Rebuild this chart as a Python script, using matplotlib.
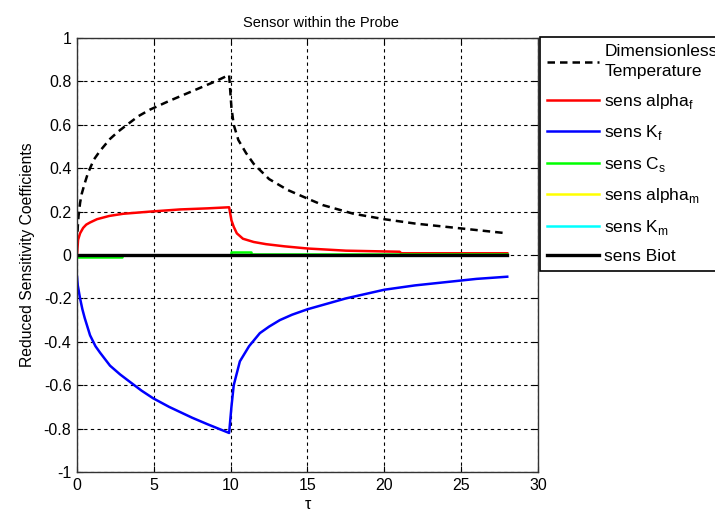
import matplotlib

matplotlib.use("Agg")
import matplotlib.pyplot as plt

plt.rcParams["font.family"] = ["Liberation Sans", "DejaVu Sans"]
plt.rcParams["mathtext.fontset"] = "custom"
plt.rcParams["mathtext.rm"] = "Liberation Sans"

# Data.
t_temp = [0, 0.05, 0.1, 0.2, 0.3, 0.5, 0.7, 0.85, 1.1, 1.5, 2.15, 2.7, 3.25, 4.0, 4.75, 6.0, 7.0,
          8.0, 9.0, 9.9, 10.05, 10.2, 10.5, 11.0, 11.5, 12.5, 13.7, 15.0, 16.0, 18.0, 20.0, 22.0,
          24.0, 26.0, 28.0]
temp = [0.05, 0.13, 0.18, 0.24, 0.28, 0.33, 0.375, 0.40, 0.44, 0.48, 0.535, 0.57, 0.60, 0.64, 0.67,
        0.71, 0.74, 0.77, 0.80, 0.83, 0.68, 0.60, 0.53, 0.47, 0.42, 0.35, 0.30, 0.26, 0.23, 0.19,
        0.165, 0.145, 0.13, 0.115, 0.10]

t_af = [0, 0.07, 0.2, 0.4, 0.6, 0.85, 1.3, 2.1, 3.0, 4.75, 6.7, 8.5, 9.9,
        10.05, 10.2, 10.4, 10.8, 11.5, 12.3, 13.5, 15.0, 17.5, 21.0, 21.1, 28.0]
alpha_f = [0.0, 0.07, 0.10, 0.125, 0.14, 0.15, 0.165, 0.18, 0.19, 0.20, 0.21, 0.215, 0.22,
           0.16, 0.13, 0.10, 0.075, 0.06, 0.05, 0.04, 0.03, 0.02, 0.015, 0.008, 0.008]

t_kf = [0, 0.05, 0.2, 0.35, 0.5, 0.85, 1.2, 1.5, 2.15, 2.8, 3.45, 4.2, 4.95, 6.0, 7.5, 8.5, 9.9,
        10.05, 10.2, 10.6, 11.2, 11.9, 12.5, 13.2, 14.0, 15.0, 17.5, 20.0, 22.0, 24.0, 26.0, 28.0]
k_f = [-0.1, -0.14, -0.2, -0.25, -0.29, -0.37, -0.42, -0.45, -0.51, -0.55, -0.585, -0.625, -0.66,
       -0.70, -0.75, -0.78, -0.82, -0.70, -0.60, -0.49, -0.42, -0.36, -0.33, -0.30, -0.275, -0.25,
       -0.20, -0.16, -0.14, -0.125, -0.11, -0.10]

t_cs = [0, 2.9, 2.9, 10.0, 10.0, 11.3, 11.3, 28.0]
c_s = [-0.01, -0.01, 0.0, 0.0, 0.012, 0.012, 0.004, 0.004]

t_flat = [0, 28.0]
alpha_m = [0.0, 0.0]
k_m = [0.0, 0.0]
biot = [0.0, 0.0]

x_ticks = [0, 5, 10, 15, 20, 25, 30]
y_ticks = [-1, -0.8, -0.6, -0.4, -0.2, 0, 0.2, 0.4, 0.6, 0.8, 1]
y_tick_labels = ["-1", "-0.8", "-0.6", "-0.4", "-0.2", "0", "0.2", "0.4", "0.6", "0.8", "1"]

fig = plt.figure(figsize=(7.15, 5.17), dpi=100)
ax = fig.add_axes([0.1077, 0.087, 0.6447, 0.8395])

ax.plot(t_temp, temp, color="k", ls=(0, (3, 2)), lw=1.8, label="Dimensionless\nTemperature")
ax.plot(t_af, alpha_f, color="#ff0000", lw=1.8, label="sens alpha$_\\mathrm{f}$")
ax.plot(t_kf, k_f, color="#0000ff", lw=1.8, label="sens K$_\\mathrm{f}$")
ax.plot(t_cs, c_s, color="#00ff00", lw=1.8, label="sens C$_\\mathrm{s}$")
ax.plot(t_flat, alpha_m, color="#ffff00", lw=1.8, label="sens alpha$_\\mathrm{m}$")
ax.plot(t_flat, k_m, color="#00ffff", lw=1.8, label="sens K$_\\mathrm{m}$")
ax.plot(t_flat, biot, color="k", lw=2.4, label="sens Biot")

ax.set_xlim(0, 30)
ax.set_ylim(-1, 1)
ax.set_xticks(x_ticks)
ax.set_yticks(y_ticks)
ax.set_yticklabels(y_tick_labels)
ax.tick_params(direction="in", length=4, labelsize=11.5, top=True, right=True, width=0.8, pad=4)
ax.grid(True, color="k", ls=(0, (3, 3)), lw=0.8)
for s in ax.spines.values():
    s.set_linewidth(1.0)
    s.set_color("#333333")

ax.set_title("Sensor within the Probe", fontsize=10.5, pad=8, x=0.53)
ax.set_xlabel("τ", fontsize=11.5, labelpad=3)
ax.set_ylabel("Reduced Sensitivity Coefficients", fontsize=11.3, labelpad=6)

# legend box hangs past the right edge, as in the original figure
leg = ax.legend(loc="upper left", bbox_to_anchor=(540 / 715, 1 - 37 / 517),
                bbox_transform=fig.transFigure, fontsize=12.5, frameon=True, fancybox=False,
                edgecolor="k", framealpha=1, handlelength=3.0, handletextpad=0.3,
                labelspacing=0.72, borderpad=0.4, borderaxespad=0)
leg.get_frame().set_linewidth(1.2)
leg.get_texts()[0].set_linespacing(1.45)

fig.savefig("out.png", dpi=100)
